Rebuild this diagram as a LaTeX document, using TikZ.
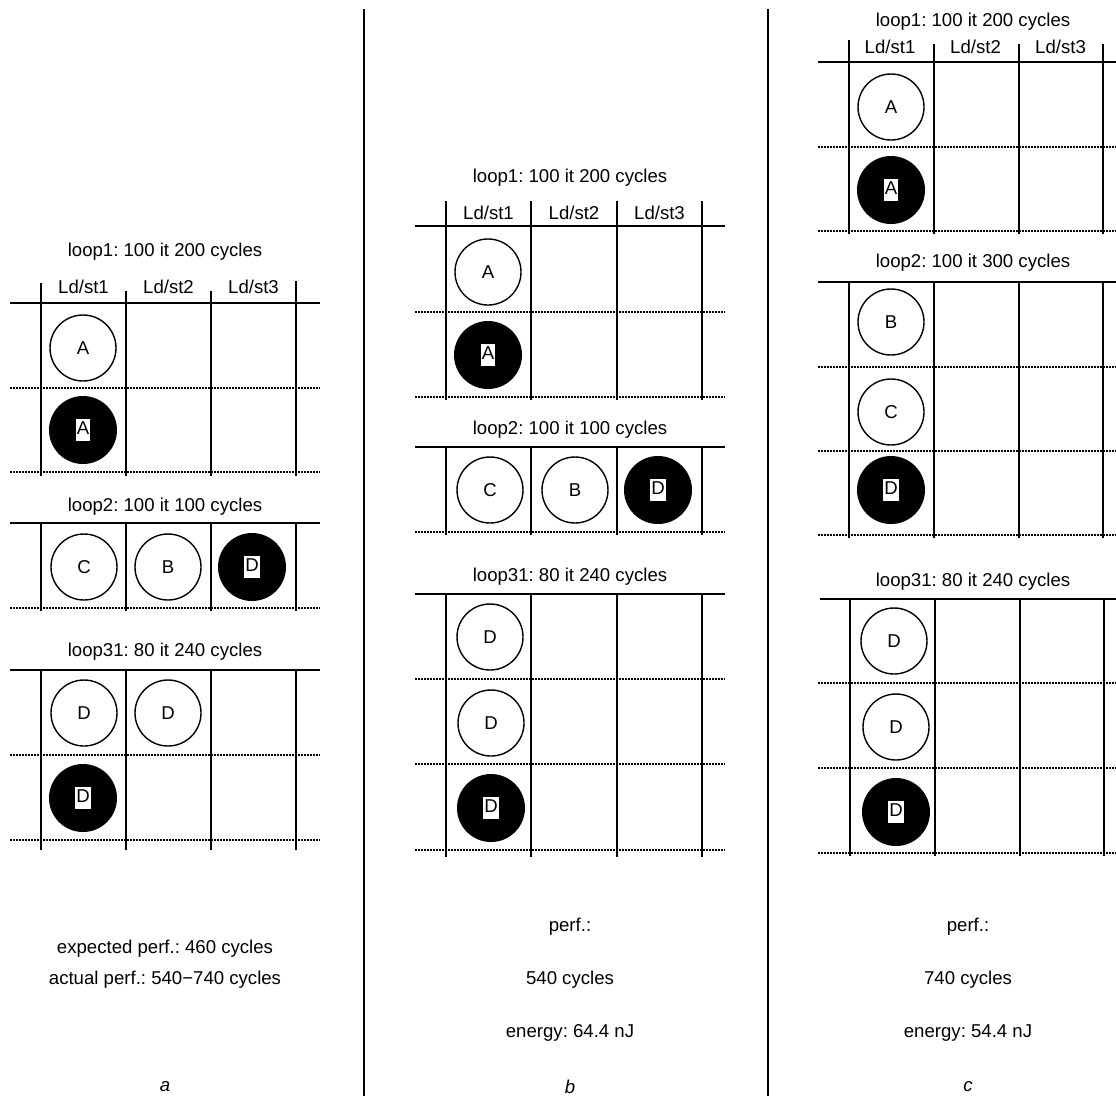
\documentclass[tikz,border=0pt]{standalone}
\usepackage{fontspec}
\setmainfont{Liberation Sans}
\frenchspacing
\begin{document}
\begin{tikzpicture}[x=1pt,y=-1pt,
  font=\fontsize{18.6}{22}\selectfont\frenchspacing,
  txt/.style={inner sep=0pt, anchor=center},
  sol/.style={line width=1.6pt},
  dotln/.style={line width=1.6pt, dash pattern=on 1.5pt off 1.5pt},
  sep/.style={line width=2pt},
  opn/.style={circle, draw, line width=1.4pt, minimum size=66pt, inner sep=0pt},
  fil/.style={circle, fill=black, minimum size=68pt, inner sep=0pt},
  lbl/.style={fill=white, inner xsep=1pt, inner ysep=1.5pt, text height=14pt, text depth=5pt},
  ital/.style={inner sep=0pt, anchor=center, font=\fontsize{18.6}{22}\selectfont\itshape}]
\useasboundingbox (0,0) rectangle (1116,1096);

% separators
\draw[sep] (364,9) -- (364,1096);
\draw[sep] (768,9) -- (768,1096);

% ================= panel a =================
\node[txt] (aT1) at (165,252) {loop1: 100 it 200 cycles};
\node[txt] (aH1) at (83.5,287) {Ld/st1};
\node[txt] (aH2) at (168.5,287) {Ld/st2};
\node[txt] (aH3) at (253.5,287) {Ld/st3};
\draw[sol] (41,283) -- (41,476);
\draw[sol] (126,291) -- (126,476);
\draw[sol] (211,291) -- (211,476);
\draw[sol] (296,281) -- (296,476);
\draw[sol] (10,303) -- (320,303);
\draw[dotln] (10,388) -- (320,388);
\draw[dotln] (10,472) -- (320,472);
\node[opn] (aA1) at (83,348) {A};
\node[fil] (aA2) at (83,430) {};
\node[lbl] (aA2l) at (aA2) {A};

\node[txt] (aT2) at (165,507) {loop2: 100 it 100 cycles};
\foreach \x in {41,126,211,296} \draw[sol] (\x,523) -- (\x,611);
\draw[sol] (10,523) -- (320,523);
\draw[dotln] (10,608) -- (320,608);
\node[opn] (aC) at (84,567) {C};
\node[opn] (aB) at (168,567) {B};
\node[fil] (aD) at (252,567) {};
\node[lbl] (aDl) at (aD) {D};

\node[txt] (aT3) at (165,652) {loop31: 80 it 240 cycles};
\foreach \x in {41,126,211,296} \draw[sol] (\x,670) -- (\x,850);
\draw[sol] (10,670) -- (320,670);
\draw[dotln] (10,755) -- (320,755);
\draw[dotln] (10,840) -- (320,840);
\node[opn] (aD1) at (84,713) {D};
\node[opn] (aD2) at (168,713) {D};
\node[fil] (aD3) at (83,798) {};
\node[lbl] (aD3l) at (aD3) {D};

\node[txt] (aP1) at (165,949) {expected perf.: 460 cycles};
\node[txt] (aP2) at (165,980) {actual perf.: 540−740 cycles};
\node[ital] (aL) at (165,1087) {a};

% ================= panel b =================
\node[txt] (bT1) at (570,178) {loop1: 100 it 200 cycles};
\node[txt] (bH1) at (488.5,213) {Ld/st1};
\node[txt] (bH2) at (574,213) {Ld/st2};
\node[txt] (bH3) at (659.5,213) {Ld/st3};
\foreach \x in {446,531,617,702} \draw[sol] (\x,201) -- (\x,400);
\draw[sol] (415,226) -- (725,226);
\draw[dotln] (415,312) -- (725,312);
\draw[dotln] (415,397) -- (725,397);
\node[opn] (bA1) at (488,272) {A};
\node[fil] (bA2) at (488,355) {};
\node[lbl] (bA2l) at (bA2) {A};

\node[txt] (bT2) at (570,430) {loop2: 100 it 100 cycles};
\foreach \x in {446,531,617,702} \draw[sol] (\x,447) -- (\x,535);
\draw[sol] (415,447) -- (725,447);
\draw[dotln] (415,532) -- (725,532);
\node[opn] (bC) at (490,490) {C};
\node[opn] (bB) at (575,490) {B};
\node[fil] (bD) at (658,490) {};
\node[lbl] (bDl) at (bD) {D};

\node[txt] (bT3) at (570,577) {loop31: 80 it 240 cycles};
\foreach \x in {446,531,617,702} \draw[sol] (\x,594) -- (\x,857);
\draw[sol] (415,594) -- (725,594);
\draw[dotln] (415,679) -- (725,679);
\draw[dotln] (415,764) -- (725,764);
\draw[dotln] (415,850) -- (725,850);
\node[opn] (bD1) at (490,637) {D};
\node[opn] (bD2) at (491,723) {D};
\node[fil] (bD3) at (491,808) {};
\node[lbl] (bD3l) at (bD3) {D};

\node[txt] (bP1) at (570,927) {perf.:};
\node[txt] (bP2) at (570,980) {540 cycles};
\node[txt] (bP3) at (570,1033) {energy: 64.4 nJ};
\node[ital] (bL) at (570,1087) {b};

% ================= panel c =================
\node[txt] (cT1) at (973,22) {loop1: 100 it 200 cycles};
\node[txt] (cH1) at (890,47) {Ld/st1};
\node[txt] (cH2) at (975.5,47) {Ld/st2};
\node[txt] (cH3) at (1060.5,47) {Ld/st3};
\draw[sol] (849,40) -- (849,234);
\foreach \x in {934,1019,1103} \draw[sol] (\x,44) -- (\x,234);
\draw[sol] (818,62) -- (1116,62);
\draw[dotln] (818,147) -- (1116,147);
\draw[dotln] (818,231) -- (1116,231);
\node[opn] (cA1) at (891,107) {A};
\node[fil] (cA2) at (891,190) {};
\node[lbl] (cA2l) at (cA2) {A};

\node[txt] (cT2) at (973,263) {loop2: 100 it 300 cycles};
\foreach \x in {849,934,1019,1103} \draw[sol] (\x,282) -- (\x,538);
\draw[sol] (818,282) -- (1116,282);
\draw[dotln] (818,367) -- (1116,367);
\draw[dotln] (818,451) -- (1116,451);
\draw[dotln] (818,535) -- (1116,535);
\node[opn] (cB) at (891,322) {B};
\node[opn] (cC) at (891,412) {C};
\node[fil] (cD) at (891,490) {};
\node[lbl] (cDl) at (cD) {D};

\node[txt] (cT3) at (973,582) {loop31: 80 it 240 cycles};
\foreach \x in {850,935,1020,1104} \draw[sol] (\x,599) -- (\x,856);
\draw[sol] (820,599) -- (1116,599);
\draw[dotln] (818,683) -- (1116,683);
\draw[dotln] (818,768) -- (1116,768);
\draw[dotln] (818,853) -- (1116,853);
\node[opn] (cD1) at (894,641) {D};
\node[opn] (cD2) at (896,727) {D};
\node[fil] (cD3) at (896,812) {};
\node[lbl] (cD3l) at (cD3) {D};

\node[txt] (cP1) at (968,927) {perf.:};
\node[txt] (cP2) at (968,980) {740 cycles};
\node[txt] (cP3) at (968,1033) {energy: 54.4 nJ};
\node[ital] (cL) at (968,1087) {c};
\end{tikzpicture}
\end{document}
